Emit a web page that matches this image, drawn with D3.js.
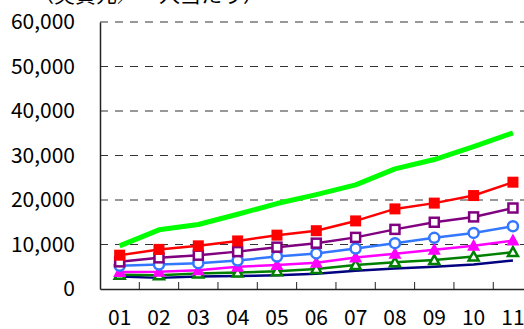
<!DOCTYPE html>
<html>
<head>
<meta charset="utf-8">
<script src="https://cdn.jsdelivr.net/npm/d3@7"></script>
<style>
  html, body { margin: 0; padding: 0; background: #fff; }
  svg { display: block; }
  text { font-family: "Noto Sans CJK JP", "Noto Sans", sans-serif; fill: #000; }
</style>
</head>
<body>
<svg id="chart" width="524" height="329"></svg>
<script>
// Years (2001–2011) shown as two-digit labels
const years = ["01", "02", "03", "04", "05", "06", "07", "08", "09", "10", "11"];
const yTicks = [0, 10000, 20000, 30000, 40000, 50000, 60000];
const unitLabel = "（実質元／一人当たり）";

// Per-capita values by group
const seriesLime    = [9700, 13300, 14500, 16800, 19200, 21200, 23400, 27000, 29100, 32000, 35100];
const seriesRed     = [7600, 8900, 9700, 10800, 12100, 13100, 15300, 18000, 19300, 21000, 24000];
const seriesPurple  = [6100, 7000, 7600, 8400, 9400, 10300, 11600, 13400, 15000, 16200, 18200];
const seriesBlue    = [5200, 5500, 5800, 6400, 7300, 8000, 9100, 10300, 11500, 12600, 14100];
const seriesMagenta = [3800, 3900, 4200, 5000, 5400, 5900, 7100, 7900, 8800, 9700, 10900];
const seriesGreen   = [3200, 3100, 3500, 3700, 4000, 4500, 5400, 6000, 6500, 7300, 8300];
const seriesNavy    = [2800, 2500, 2800, 2900, 3100, 3400, 4100, 4600, 5000, 5500, 6400];

const svg = d3.select("#chart");

const x = d3.scaleBand().domain(years).range([100, 532.6]);
const y = d3.scaleLinear().domain([0, 60000]).range([289, 22]);
const cx = d => x(d) + x.bandwidth() / 2;

// Unit caption (partly above the top edge)
svg.append("text")
  .attr("x", 33).attr("y", 2)
  .style("font-size", "21px")
  .text(unitLabel);

// Dashed horizontal gridlines (the first dash doubles as the tick mark)
svg.append("g").selectAll("line")
  .data(yTicks.filter(v => v > 0))
  .join("line")
  .attr("x1", 100).attr("x2", 524)
  .attr("y1", d => y(d)).attr("y2", d => y(d))
  .attr("stroke", "#333").attr("stroke-width", 1)
  .attr("stroke-dasharray", "8,7");

// Y axis
const yAxis = svg.append("g")
  .attr("transform", "translate(100,0)")
  .call(d3.axisLeft(y).tickValues(yTicks).tickSize(0).tickPadding(25)
        .tickFormat(d3.format(",")));
yAxis.select(".domain").attr("stroke", "#222").attr("stroke-width", 1.5);
yAxis.selectAll("text").style("font-size", "21px").attr("fill", "#000");

// X axis with inward ticks at band boundaries
const xAxis = svg.append("g")
  .attr("transform", "translate(0,289)")
  .call(d3.axisBottom(x).tickSize(0).tickPadding(21));
xAxis.select(".domain").attr("stroke", "#222").attr("stroke-width", 1.5);
xAxis.selectAll("text").style("font-size", "21px").attr("fill", "#000");
svg.append("g").selectAll("line")
  .data(years.slice(1))
  .join("line")
  .attr("x1", d => x(d)).attr("x2", d => x(d))
  .attr("y1", 289).attr("y2", 282)
  .attr("stroke", "#222").attr("stroke-width", 1);

const line = d3.line().x((d, i) => cx(years[i])).y(d => y(d));

const series = [
  { values: seriesNavy,    color: "#000080", width: 2.5, marker: null },
  { values: seriesGreen,   color: "#008000", width: 2.5, marker: "triOpen" },
  { values: seriesMagenta, color: "#ff00ff", width: 2.5, marker: "triFill" },
  { values: seriesBlue,    color: "#3377ff", width: 2.5, marker: "circleOpen" },
  { values: seriesPurple,  color: "#800080", width: 2.5, marker: "squareOpen" },
  { values: seriesRed,     color: "#ff0000", width: 2.5, marker: "squareFill" },
  { values: seriesLime,    color: "#00ff00", width: 5,   marker: null }
];

series.forEach(s => {
  const g = svg.append("g");
  g.append("path")
    .datum(s.values)
    .attr("d", line)
    .attr("fill", "none")
    .attr("stroke", s.color)
    .attr("stroke-width", s.width)
    .attr("stroke-linejoin", "round");

  if (!s.marker) return;
  const pts = g.selectAll(".m").data(s.values).join("g")
    .attr("transform", (d, i) => `translate(${cx(years[i])},${y(d)})`);
  if (s.marker === "squareFill") {
    pts.append("rect").attr("x", -5.5).attr("y", -5.5).attr("width", 11).attr("height", 11)
      .attr("fill", s.color);
  } else if (s.marker === "squareOpen") {
    pts.append("rect").attr("x", -4.5).attr("y", -4.5).attr("width", 9).attr("height", 9)
      .attr("fill", "#fff").attr("stroke", s.color).attr("stroke-width", 2.5);
  } else if (s.marker === "circleOpen") {
    pts.append("circle").attr("r", 5)
      .attr("fill", "#fff").attr("stroke", s.color).attr("stroke-width", 2.5);
  } else if (s.marker === "triFill") {
    pts.append("path").attr("d", "M0,-7L6.5,5L-6.5,5Z").attr("fill", s.color);
  } else if (s.marker === "triOpen") {
    pts.append("path").attr("d", "M0,-5L5,4L-5,4Z")
      .attr("fill", "#fff").attr("stroke", s.color).attr("stroke-width", 2.5)
      .attr("stroke-linejoin", "miter");
  }
});
</script>
</body>
</html>
